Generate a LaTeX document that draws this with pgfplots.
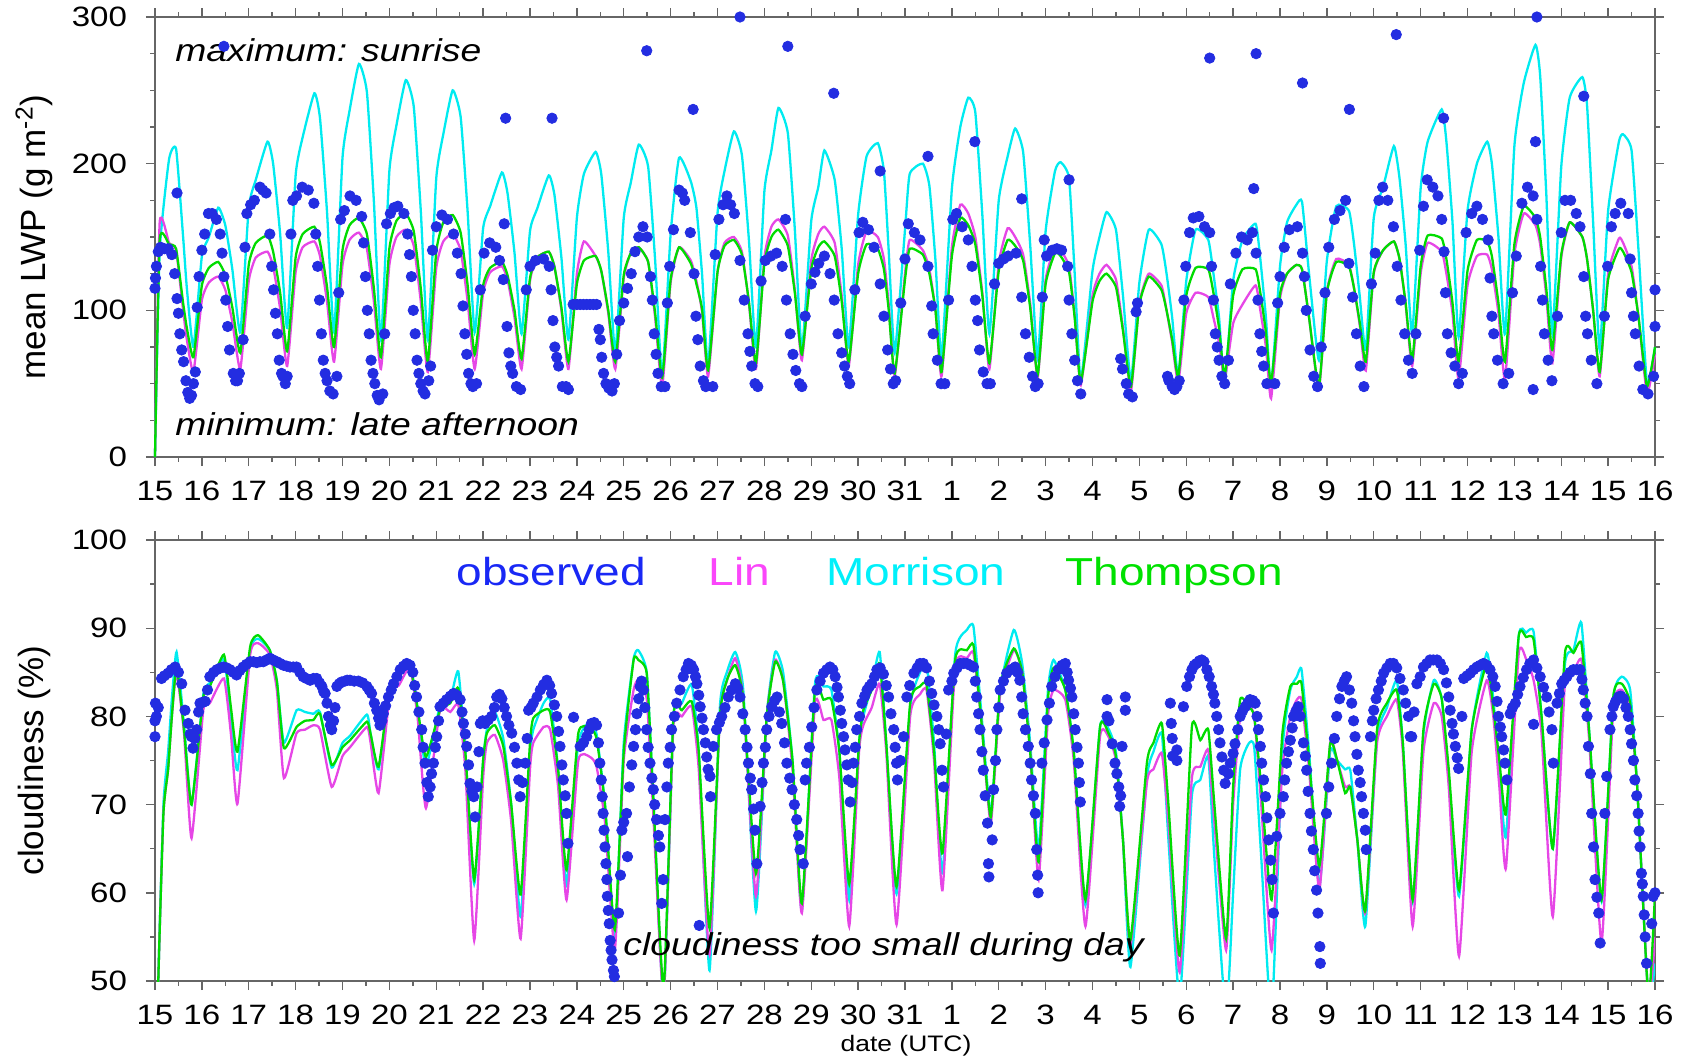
\documentclass[border=0pt]{standalone}
\usepackage{fontspec}
\setmainfont{Liberation Sans}[FakeStretch=1.18]
\newfontfamily\rotfont{Liberation Sans}
\usepackage{pgfplots}
\usepackage{pgfplotstable}
\pgfplotsset{compat=1.18}

\definecolor{obsblue}{RGB}{35,45,225}
\definecolor{linmag}{RGB}{230,70,230}
\definecolor{morcyan}{RGB}{0,235,240}
\definecolor{thogreen}{RGB}{0,220,0}
\definecolor{obstxt}{RGB}{25,40,245}
\definecolor{lintxt}{RGB}{250,70,250}
\definecolor{mortxt}{RGB}{0,240,250}
\definecolor{thotxt}{RGB}{0,225,0}

% model LWP (g m-2)
\pgfplotstableread{
t lin mor tho
0.00 0 0 0
0.10 160 140 148
0.30 146 203 145
0.45 141 210 142
0.60 100 150 105
0.68 80 115 88
0.82 58 75 68
1.00 107 137 117
1.15 119 150 129
1.35 123 170 133
1.50 114 158 124
1.65 92 128 102
1.82 60 85 71
2.00 120 170 131
2.15 136 189 146
2.40 140 215 151
2.52 130 200 140
2.67 101 152 112
2.82 62 88 72
3.00 126 192 136
3.15 143 218 152
3.40 147 248 157
3.52 137 231 146
3.67 106 167 116
3.82 65 85 75
4.00 131 204 141
4.15 148 236 158
4.35 153 268 163
4.52 142 249 152
4.67 106 174 115
4.82 60 80 68
5.00 131 195 142
5.15 150 226 161
5.35 155 257 166
5.52 144 239 154
5.67 106 168 115
5.82 58 80 65
6.00 129 190 140
6.15 147 220 160
6.35 152 250 165
6.52 141 232 153
6.67 106 167 117
6.82 60 85 70
7.00 112 156 117
7.15 126 171 129
7.40 130 194 133
7.52 121 180 124
7.67 95 139 100
7.82 60 84 67
8.00 120 154 122
8.15 136 169 136
8.40 140 192 140
8.52 130 179 130
8.67 100 136 102
8.82 60 80 65
9.00 125 163 118
9.15 147 193 134
9.40 137 208 137
9.52 127 193 127
9.67 98 140 100
9.82 60 71 65
10.00 122 163 124
10.15 139 187 139
10.32 143 213 143
10.52 133 198 133
10.67 95 134 98
10.82 48 55 54
11.00 119 152 121
11.18 143 204 143
11.43 134 188 132
11.55 120 170 118
11.67 99 125 101
11.80 55 62 59
12.00 126 166 126
12.15 146 195 144
12.35 150 222 148
12.52 140 206 138
12.67 105 148 106
12.82 60 75 64
13.00 136 181 132
13.15 157 209 150
13.30 162 238 155
13.50 151 221 144
13.65 114 155 112
13.80 66 73 70
14.00 134 161 128
14.15 152 184 143
14.28 157 209 147
14.50 146 189 137
14.65 110 142 106
14.80 62 75 65
15.00 131 165 125
15.18 154 205 145
15.42 150 214 142
15.55 135 195 128
15.65 105 142 101
15.78 55 71 57
16.00 125 155 121
16.10 148 193 142
16.38 141 200 138
16.52 128 185 125
16.65 100 134 100
16.78 55 68 58
17.00 143 183 137
17.18 172 225 163
17.35 166 245 158
17.50 150 235 145
17.65 112 165 110
17.80 60 84 64
18.00 132 175 127
18.19 156 205 148
18.35 150 224 144
18.52 138 208 134
18.67 105 145 102
18.83 54 67 56
19.00 121 154 118
19.20 143 195 139
19.32 141 201 137
19.50 130 190 126
19.62 96 125 95
19.75 49 52 51
20.00 110 127 106
20.15 125 150 120
20.30 131 167 125
20.50 121 155 116
20.65 88 110 86
20.82 45 52 48
21.00 105 119 104
21.20 125 155 123
21.47 117 145 114
21.58 100 125 100
21.70 78 95 80
21.83 51 55 55
22.00 98 120 110
22.20 112 155 129
22.47 109 148 128
22.58 95 125 112
22.70 78 95 88
22.82 53 49 55
23.00 91 120 110
23.20 104 148 128
23.48 117 159 128
23.58 100 135 112
23.70 75 95 85
23.81 40 48 50
24.00 108 130 111
24.15 125 160 125
24.35 131 172 131
24.47 128 174 128
24.62 95 125 95
24.83 46 66 48
25.00 113 134 112
25.20 135 171 133
25.47 131 168 130
25.58 115 145 115
25.70 90 110 92
25.83 59 73 65
26.00 125 163 126
26.20 141 184 141
26.43 147 212 147
26.55 135 190 135
26.68 104 145 105
26.82 62 84 66
27.00 125 183 130
27.15 146 215 151
27.45 140 237 149
27.55 125 215 135
27.68 98 160 105
27.81 53 82 65
28.00 117 168 127
28.20 137 200 148
28.42 138 215 147
28.52 128 200 137
28.66 98 150 105
28.80 53 84 65
29.00 138 212 145
29.20 166 255 171
29.45 158 281 163
29.55 145 260 150
29.68 110 180 115
29.81 64 84 73
30.00 136 198 138
30.18 160 245 160
30.45 150 259 150
30.55 135 240 135
30.68 100 160 100
30.82 55 73 58
31.00 125 168 121
31.23 149 215 142
31.32 146 220 140
31.50 130 209 126
31.65 95 140 95
31.83 43 50 48
32.00 70 75 75
}\toplines

% observed LWP
\pgfplotstableread{
t v
0.00 115
0.01 122
0.03 130
0.07 140
0.12 143
0.20 142
0.28 142
0.36 138
0.42 125
0.47 180
0.47 108
0.50 98
0.53 84
0.57 73
0.61 65
0.66 52
0.70 44
0.74 40
0.78 42
0.82 50
0.86 58
0.90 102
0.94 123
1.00 141
1.06 152
1.14 166
1.22 166
1.31 162
1.39 152
1.43 139
1.47 123
1.47 280
1.51 107
1.55 89
1.59 73
1.67 57
1.72 52
1.76 52
1.80 57
1.88 80
1.92 143
1.96 166
2.04 172
2.12 175
2.24 184
2.30 182
2.37 180
2.45 152
2.49 130
2.53 114
2.57 98
2.61 84
2.65 66
2.70 57
2.73 55
2.78 50
2.82 55
2.90 152
2.94 175
3.02 178
3.14 184
3.27 182
3.39 173
3.43 152
3.47 130
3.51 107
3.55 84
3.59 66
3.63 57
3.67 52
3.73 45
3.80 43
3.88 55
3.92 112
3.96 162
4.04 168
4.16 178
4.29 175
4.41 164
4.45 146
4.49 123
4.53 100
4.57 84
4.61 66
4.65 57
4.69 50
4.74 42
4.78 39
4.86 43
4.90 84
4.94 159
5.02 166
5.10 170
5.18 171
5.31 166
5.39 152
5.43 138
5.47 123
5.51 100
5.55 84
5.59 66
5.63 57
5.67 50
5.72 45
5.76 43
5.84 52
5.88 62
5.92 141
6.00 157
6.12 165
6.24 162
6.37 152
6.45 139
6.53 125
6.57 103
6.61 84
6.65 70
6.69 57
6.74 50
6.78 48
6.86 50
6.94 114
7.02 139
7.14 146
7.27 143
7.35 134
7.43 121
7.45 159
7.48 231
7.51 89
7.55 71
7.59 62
7.63 57
7.71 48
7.80 46
7.92 114
8.00 130
8.12 134
8.29 135
8.41 130
8.45 114
8.47 231
8.49 93
8.53 75
8.57 68
8.61 62
8.69 48
8.77 48
8.82 46
8.92 104
9.00 104
9.07 104
9.14 104
9.21 104
9.28 104
9.35 104
9.42 104
9.47 87
9.50 80
9.53 68
9.57 57
9.62 50
9.68 47
9.75 45
9.80 50
9.85 70
9.91 93
10.00 105
10.08 115
10.16 125
10.24 140
10.32 150
10.41 157
10.49 277
10.50 150
10.57 123
10.61 107
10.65 84
10.69 70
10.73 57
10.80 48
10.88 48
10.93 105
10.98 130
11.06 155
11.18 182
11.25 180
11.30 175
11.42 153
11.48 237
11.50 125
11.54 96
11.58 80
11.63 62
11.70 52
11.75 48
11.90 48
11.95 138
12.03 162
12.12 172
12.20 178
12.28 172
12.36 166
12.48 134
12.48 300
12.57 107
12.65 84
12.69 72
12.73 62
12.80 50
12.86 48
12.93 120
13.02 134
13.14 137
13.26 139
13.38 130
13.45 162
13.47 107
13.50 280
13.55 84
13.61 70
13.67 59
13.75 50
13.80 48
13.87 96
14.00 118
14.08 126
14.16 132
14.28 137
14.40 125
14.48 248
14.49 107
14.57 84
14.65 71
14.71 62
14.77 55
14.82 50
14.93 114
15.02 153
15.10 160
15.22 155
15.34 143
15.47 118
15.47 195
15.55 96
15.63 73
15.69 60
15.75 50
15.80 52
15.91 105
16.00 135
16.07 159
16.20 153
16.32 148
16.49 130
16.49 205
16.57 103
16.60 84
16.69 66
16.77 50
16.85 50
16.93 107
17.02 162
17.10 166
17.22 157
17.35 148
17.43 130
17.49 215
17.50 107
17.55 93
17.59 73
17.67 58
17.75 50
17.82 50
17.91 118
18.00 132
18.10 135
18.20 137
18.37 139
18.49 109
18.49 176
18.57 84
18.65 68
18.72 55
18.78 48
18.84 50
18.93 109
18.97 148
19.02 137
19.14 141
19.24 142
19.34 141
19.47 130
19.50 107
19.50 189
19.56 84
19.62 66
19.68 52
19.75 43
20.60 67
20.64 60
20.72 50
20.77 43
20.85 41
20.93 99
20.96 105
21.60 55
21.63 52
21.70 48
21.75 46
21.80 48
21.85 52
21.95 107
21.99 130
22.07 153
22.15 163
22.27 164
22.39 157
22.50 153
22.50 272
22.54 130
22.58 107
22.62 84
22.66 75
22.70 66
22.76 55
22.82 50
22.90 66
22.94 118
23.06 139
23.18 150
23.30 148
23.41 153
23.44 183
23.49 275
23.49 139
23.53 107
23.57 84
23.61 72
23.65 62
23.72 50
23.89 50
23.95 105
24.00 123
24.09 143
24.20 155
24.37 157
24.48 139
24.48 255
24.52 123
24.56 100
24.64 73
24.72 55
24.80 48
24.88 75
24.96 112
25.04 143
25.16 162
25.28 168
25.40 175
25.47 132
25.48 237
25.55 109
25.63 84
25.71 62
25.79 48
25.95 118
26.03 139
26.11 175
26.19 184
26.30 175
26.42 157
26.48 288
26.50 130
26.58 107
26.66 84
26.74 66
26.82 57
26.90 84
26.98 141
27.06 171
27.14 189
27.26 184
27.37 178
27.45 162
27.49 231
27.50 140
27.53 112
27.57 84
27.65 71
27.73 62
27.81 50
27.89 57
27.97 153
28.09 166
28.20 171
28.32 162
28.44 148
28.48 122
28.52 96
28.56 84
28.64 66
28.76 50
28.88 57
28.96 112
29.04 137
29.16 173
29.28 184
29.40 178
29.40 46
29.45 215
29.48 162
29.48 300
29.56 130
29.60 107
29.64 84
29.72 66
29.80 52
29.92 96
30.00 153
30.08 175
30.20 175
30.32 166
30.40 157
30.48 123
30.48 246
30.52 96
30.56 84
30.64 66
30.76 50
30.92 96
30.99 130
31.07 157
31.15 166
31.27 173
31.43 166
31.47 135
31.50 112
31.54 96
31.58 84
31.66 62
31.74 46
31.85 43
31.97 55
32.00 89
32.00 114
}\topobs

% model cloudiness (%)
\pgfplotstableread{
t lin mor tho
0.00 30 30 30
0.07 50 50 50
0.18 69 70 69
0.28 74 76 74
0.36 80 82 80
0.46 85 87.3 85.6
0.62 78 79 78.5
0.78 66.2 70 70
1.03 80.7 82.5 82.2
1.17 81.5 83.8 83.4
1.47 84.3 86.5 87
1.62 78 80 81
1.76 70.1 73.9 76
2.03 87 87.5 87.9
2.20 88.3 88.8 89.2
2.45 87 87.5 87.5
2.60 83 84 84
2.75 73 77 76.4
3.02 78.1 80.7 78.8
3.20 78.5 80.5 79.5
3.38 79 80.3 79.6
3.52 78.5 80.5 80.3
3.77 72 74.2 74.5
4.00 75.5 77 76.5
4.16 76.5 77.8 77.3
4.52 78.8 80.2 79.4
4.60 77 78 78
4.77 71.3 74 74.3
5.01 82.5 83 83.4
5.20 83.5 84.5 84.5
5.44 85.5 86 85.8
5.60 80 81 81
5.78 69.6 74.3 75.4
6.08 80.7 81.2 80.7
6.30 80.5 82 81.5
6.47 81.3 85.1 83.2
6.62 74 76 76
6.81 54.6 61 61.5
7.00 73 75 75
7.08 77 78.5 78.1
7.25 77.9 80.5 79
7.43 75 77.5 76.6
7.60 68 70 70
7.80 54.8 57.3 59.8
8.00 74 75.5 77
8.07 77 78.5 79.8
8.29 78.8 81.5 80.7
8.43 78.5 81.9 80.5
8.60 72 74 74
8.78 59.2 60.9 62.6
9.03 75 77 78.1
9.28 75.4 79.4 78.7
9.42 74.3 78 77.5
9.60 68 70 70
9.81 53.5 55 55.8
10.00 75 77 76
10.21 83 86.5 86.4
10.31 84.1 87.5 86.4
10.49 82 85 84.9
10.62 70 72 72
10.85 48 48 49
11.06 79 80 80
11.24 80 81.5 80.7
11.45 81.1 83.6 81.7
11.60 74 76 76
11.83 53 51.2 56
12.05 80 81 80
12.20 84 85 84.1
12.38 86.6 87.3 85.8
12.55 82 83 82
12.82 59.6 57.9 62.2
13.05 80 80 80
13.23 86.4 87.3 86.2
13.40 84 85 84
13.60 74 75 75
13.80 57.7 58 58.8
14.08 81.5 83.7 83
14.26 79.6 83.4 81.9
14.43 79.6 83 81.9
14.60 73 76 76
14.81 56.2 59.2 61
15.02 76 77 77
15.11 79 80 80.7
15.29 81 83.5 83
15.46 83.7 87.3 86
15.60 76 77 77
15.82 56.4 59.9 60.7
16.11 80 81 81.5
16.32 82.5 85 83.4
16.46 83 86 83.6
16.62 75 77 76
16.80 60.3 62.2 64.5
17.07 85.5 87 86.4
17.32 86.6 89.8 87.5
17.46 87.2 90.2 88.1
17.62 80 81 80
17.83 67.9 69 68.6
18.03 82.5 83 83.4
18.32 87.5 89.8 87.7
18.50 85 86 85
18.67 76 77 76
18.85 61.5 64.9 63.5
19.05 80 83 82
19.17 83 86.4 85.5
19.42 81.9 83 83
19.60 75 76 76
19.85 56.2 58.6 59.2
20.16 77.7 78.8 78.8
20.34 77.7 78.6 78.1
20.50 75 76 75.5
20.65 66 66 66
20.81 54 51.6 54.6
21.16 72.5 73 74.7
21.30 74 76 77
21.48 75.8 78 79.2
21.62 68 66 70
21.86 51 48 52.9
22.12 73 71 78.8
22.30 74.3 72.8 77.3
22.47 76.2 75.4 78.5
22.60 68 64 70
22.85 53.5 46 54.8
23.00 70 60 72
23.15 80 74 81.9
23.33 81.2 76.9 81.1
23.45 80 76.5 80
23.60 70 64 72
23.82 53.5 46 59.2
24.05 74 76 78
24.22 80 83 83.4
24.36 81.9 84.5 83.7
24.46 81.9 85.3 83.7
24.62 74 76 75
24.84 60.3 60.7 63
25.07 77 76 76.9
25.22 75 75 75
25.39 72 74 71.3
25.50 72 73.9 72
25.65 66 66 66
25.82 57.7 56.2 58
26.07 77 77.5 78.5
26.28 80 81 81.5
26.49 81.9 84.1 83
26.62 76 77 77
26.83 56.2 59 59.2
27.06 76 78 78.5
27.28 81.5 84.1 83.7
27.45 80 82 82
27.60 72 73 74
27.82 52.8 59.6 60.3
28.09 76 78.5 78.5
28.41 84.1 87.2 86
28.55 80 82 81
28.68 72 74 75
28.82 62.8 66.4 69
29.09 87 89 89
29.25 86.5 89.5 89
29.41 84.1 89.6 88.7
29.58 78 80 80
29.82 57.3 65 65
30.08 84 86 87.2
30.26 85 87.5 87.2
30.43 86.4 90.6 88.3
30.60 77 78 78
30.86 54.3 59 59.2
31.11 81 82 82.2
31.29 83 84.5 83.7
31.47 80.7 83 81.5
31.62 72 72 72
31.86 48 48 48
32.00 55 52 60
}\botlines

% observed cloudiness
\pgfplotstableread{
t v
0.00 77.7
0.00 79.5
0.01 81.5
0.03 80
0.07 81
0.14 84.3
0.20 84.6
0.28 84.9
0.35 85.3
0.43 85.6
0.50 85
0.57 83.7
0.64 80.7
0.71 79.2
0.75 78
0.78 77.7
0.81 76.4
0.85 77.5
0.89 78.5
0.93 80.5
0.96 81.5
1.02 81.6
1.07 81.7
1.12 83
1.17 84.5
1.25 85
1.32 85.3
1.40 85.5
1.46 85.6
1.53 85.5
1.60 85.3
1.67 85
1.74 84.7
1.81 85.2
1.88 85.6
1.95 85.9
2.03 86.2
2.10 86.2
2.17 86.1
2.24 86.2
2.31 86.2
2.38 86.4
2.45 86.6
2.52 86.4
2.60 86.2
2.67 86
2.74 85.8
2.81 85.7
2.88 85.6
2.95 85.6
3.02 85.6
3.09 85
3.16 84.5
3.23 84.3
3.31 84.1
3.38 84.3
3.45 84.3
3.51 83.8
3.56 83.4
3.60 82.8
3.63 82.6
3.67 81.5
3.70 80
3.74 79
3.77 78.5
3.81 79.5
3.84 81
3.88 83.4
3.93 83.7
3.98 83.9
4.05 84
4.10 84.1
4.16 84.1
4.25 84
4.34 84
4.43 83.8
4.52 83.4
4.57 83
4.62 82.6
4.68 81.5
4.73 80.7
4.77 79.8
4.80 79
4.84 79.5
4.87 80.3
4.92 81.2
4.98 82.2
5.04 83
5.09 83.7
5.16 84.5
5.23 85.3
5.30 85.7
5.37 86
5.44 85.8
5.50 85
5.54 83.5
5.58 82.2
5.63 80.5
5.69 78.5
5.72 76.5
5.76 74.7
5.80 72.5
5.83 70.9
5.87 72
5.90 73.5
5.94 74.7
5.98 76.5
6.01 77.7
6.05 79.5
6.08 81.1
6.15 81.5
6.22 81.9
6.30 82.3
6.37 82.6
6.44 82.4
6.51 81.9
6.55 80.5
6.58 79.2
6.62 78
6.65 76.6
6.69 74.5
6.72 72.4
6.76 71.5
6.80 70.9
6.83 68.6
6.87 72
6.91 76
6.94 79.2
6.99 79.5
7.04 79.2
7.11 79.6
7.18 80
7.24 81
7.29 82.2
7.35 82.5
7.40 82
7.45 81
7.50 80
7.55 79
7.61 78.1
7.67 76.5
7.72 74.7
7.76 72.8
7.79 70.9
7.84 72.5
7.90 74.7
7.94 77.5
7.97 80.7
8.02 81
8.07 81.5
8.15 82.2
8.22 83
8.29 83.6
8.36 84.1
8.42 83.5
8.46 82.6
8.52 81.3
8.57 80
8.61 78.3
8.64 76.6
8.68 74.5
8.71 72.8
8.75 71
8.78 69
8.81 65.6
8.93 79.9
9.07 76.6
9.14 77
9.21 77.7
9.26 78.5
9.31 79.2
9.37 79.3
9.42 79
9.46 77
9.49 74.7
9.52 72.8
9.54 70.9
9.56 69
9.58 67.1
9.60 65.2
9.62 63.3
9.64 61.5
9.65 59.6
9.67 58
9.69 56.5
9.71 54.6
9.73 53.5
9.75 52.4
9.78 51.2
9.80 50.5
9.89 57.7
9.93 62
9.96 67.1
10.00 68
10.06 69
10.08 64.1
10.12 72
10.17 74.5
10.21 76.6
10.25 78.5
10.28 80.3
10.32 82
10.35 83.4
10.38 84
10.42 83
10.45 81
10.49 78.5
10.52 76.5
10.56 74.7
10.60 73
10.63 71.7
10.66 70
10.70 68.3
10.74 66.5
10.77 65.2
10.81 58.8
10.84 61.5
10.88 68.3
10.92 72
10.95 74.7
10.99 76.5
11.02 78.5
11.08 80
11.13 81.5
11.20 83
11.27 84.5
11.33 85.3
11.38 86
11.44 85.8
11.49 85.3
11.53 84.5
11.56 83.7
11.60 82.4
11.61 56.3
11.63 81.1
11.67 79.8
11.70 78.5
11.74 77
11.77 75.4
11.80 74
11.84 73.2
11.85 70.9
11.91 76.6
11.98 78.5
12.04 79.3
12.09 80
12.16 81
12.23 82.2
12.30 83
12.38 83.7
12.43 83.2
12.48 82.2
12.54 80.3
12.59 78.5
12.63 76.5
12.66 74.7
12.70 73
12.73 71.7
12.77 69.5
12.80 67.1
12.84 63.3
12.91 69.8
12.95 72.5
12.98 74.7
13.02 76.5
13.05 78.5
13.10 80
13.16 81.1
13.22 81.8
13.27 82.2
13.32 80.5
13.37 79.2
13.43 77
13.48 74.7
13.54 73
13.59 71.7
13.64 70
13.69 68.3
13.73 66.5
13.76 64.9
13.83 63.3
13.87 72.8
13.90 74.7
13.96 76.5
14.01 78.8
14.06 81
14.12 83
14.19 84
14.26 84.9
14.33 85.3
14.40 85.6
14.46 85.3
14.51 84.5
14.55 83.3
14.58 82.2
14.62 80.7
14.65 79.2
14.69 77.7
14.72 76.2
14.76 74.5
14.79 72.8
14.83 70.3
14.87 72.5
14.90 74.7
14.94 76.5
14.97 78.5
15.03 80
15.08 81.5
15.14 82.3
15.19 83
15.24 83.4
15.29 83.7
15.35 84.5
15.40 85.3
15.47 85.5
15.54 84.8
15.60 83.5
15.65 82.2
15.70 80.3
15.76 78.5
15.79 76.5
15.82 74.7
15.84 72.8
15.90 75
15.97 77.7
16.04 82.2
16.10 83.5
16.19 84.9
16.26 85.5
16.32 86
16.39 86
16.46 85.5
16.52 84
16.57 82.6
16.62 81.3
16.68 80
16.72 78.5
16.75 76.9
16.79 73.9
16.82 72
16.88 78
16.93 83
17.00 84
17.04 84.9
17.11 85.5
17.18 86
17.25 86
17.32 86
17.39 85.8
17.46 85.6
17.50 84
17.53 82.2
17.57 80.3
17.60 78.5
17.64 76
17.67 73.9
17.71 71
17.76 67.9
17.78 63.3
17.79 61.8
17.86 66
17.89 71.7
17.93 75
17.96 78.5
18.00 81
18.03 83
18.10 84
18.17 84.9
18.26 85.3
18.35 85.6
18.40 85
18.45 84.1
18.49 82.2
18.52 80.3
18.57 78.5
18.63 76.6
18.67 74.7
18.70 72.8
18.74 71
18.78 69
18.81 64.9
18.83 62
18.84 60
18.92 74.7
18.97 77
19.03 79.6
19.08 81.5
19.13 83.4
19.20 84.5
19.27 85.3
19.35 85.8
19.42 86
19.46 85
19.49 84.1
19.53 83.2
19.56 82.2
19.60 80.3
19.63 78.5
19.67 76.5
19.70 74.7
19.72 72.5
19.74 70.3
20.31 81.9
20.31 80
20.35 79.5
20.42 76.9
20.48 74.7
20.52 73.5
20.56 72
20.58 69.8
20.60 71
20.63 76.6
20.70 82.2
20.70 80.7
21.66 81.5
21.68 79.2
21.70 77.5
21.71 75.5
21.80 76.2
21.80 75
21.94 81.1
22.01 83.4
22.07 84.5
22.12 85.3
22.17 85.8
22.22 86
22.28 86.3
22.33 86.4
22.38 86.2
22.44 85.3
22.49 84.5
22.54 83.4
22.58 82.5
22.61 81.5
22.65 80
22.69 78.5
22.72 77
22.76 75.4
22.80 73.9
22.83 72.4
22.90 73.5
22.94 74.7
23.00 75.8
23.04 76.9
23.10 78.5
23.15 80
23.20 80.6
23.26 81.1
23.31 81.5
23.36 81.9
23.42 81.8
23.47 81.5
23.51 80
23.54 78.5
23.58 76.6
23.61 74.7
23.65 72.8
23.69 70.9
23.72 68.5
23.76 66
23.80 63.7
23.83 61.5
23.86 57.7
23.93 66.4
24.00 69
24.07 70.9
24.10 72.8
24.14 74.7
24.18 76
24.22 77.3
24.26 78.7
24.29 80
24.34 80.6
24.39 81.1
24.43 80
24.50 77
24.54 75.5
24.57 73.9
24.60 71.5
24.64 69
24.67 67
24.71 64.9
24.74 62.5
24.78 60.3
24.81 57.7
24.85 53.9
24.86 52
24.99 69
25.04 72
25.10 74.7
25.16 77.5
25.21 80
25.27 82
25.32 83.4
25.37 84
25.42 84.5
25.48 83
25.53 81.5
25.57 79.5
25.60 77.7
25.64 75.7
25.67 73.9
25.71 72.5
25.74 70.9
25.78 69
25.82 67.1
25.84 64.9
25.93 77.7
25.97 79.5
26.00 80.7
26.05 82
26.10 83
26.16 84
26.21 84.9
26.28 85.5
26.35 86
26.42 86
26.49 85.5
26.56 84.3
26.63 83
26.68 81.5
26.74 80
26.78 77.7
26.81 77.7
26.86 80.5
26.92 83.7
26.99 84.5
27.06 85.6
27.13 86
27.20 86.4
27.27 86.4
27.35 86.4
27.42 86
27.49 85.3
27.55 83.8
27.60 82.2
27.63 80.7
27.67 79.2
27.70 78
27.74 76.6
27.78 75.3
27.81 74.1
27.88 80
27.92 84.3
27.99 84.6
28.06 84.9
28.13 85.3
28.20 85.6
28.27 85.8
28.34 86
28.41 85.8
28.48 85.3
28.54 84.5
28.59 83.4
28.63 81.7
28.66 80
28.70 78.8
28.73 77.7
28.77 76.2
28.80 74.7
28.84 72.8
28.91 80.3
28.96 81
29.02 81.5
29.07 82.5
29.12 83.4
29.19 84.4
29.26 85.3
29.33 86
29.41 86.4
29.41 79.1
29.48 85.5
29.55 84.5
29.62 83.3
29.69 82.2
29.74 80.5
29.80 78.5
29.83 74.7
29.91 81.5
29.96 82.6
30.01 83.7
30.06 84.1
30.12 84.5
30.19 85
30.26 85.3
30.33 85.3
30.40 85.3
30.44 84.2
30.47 83
30.51 81.5
30.55 80
30.58 76.6
30.62 73.5
30.65 69
30.69 65.2
30.72 61.5
30.76 59.5
30.80 57.7
30.83 54.3
30.93 69
30.97 73.2
31.04 78.5
31.08 80
31.11 81.1
31.16 81.7
31.22 82.2
31.27 82.3
31.33 82
31.38 81
31.43 80
31.47 78.5
31.50 76.9
31.54 75
31.57 72.8
31.61 71
31.64 69
31.66 67
31.68 65.2
31.71 62.2
31.73 61
31.75 59.6
31.77 57.5
31.79 55
31.82 52
31.93 56.5
31.96 59.6
32.00 60
}\botobs

\pgfplotsset{
  panel/.style={
    scale only axis,
    width=750pt,
    xmin=0, xmax=32,
    axis line style={draw=black!60, line width=0.8pt},
    tick align=outside,
    tick pos=both,
    xticklabel pos=lower,
    yticklabel pos=left,
    xtick={0,...,32},
    xticklabels={15,16,17,18,19,20,21,22,23,24,25,26,27,28,29,30,31,1,2,3,4,5,6,7,8,9,10,11,12,13,14,15,16},
    minor x tick num=1,
    major tick length=4.5pt,
    minor tick length=2.3pt,
    every tick/.style={draw=black!60, line width=0.7pt},
    tick label style={font=\fontsize{14}{16}\selectfont},
    xticklabel style={yshift=-4pt},
    yticklabel style={xshift=-6pt},
    every axis y label/.style={at={(axis description cs:-0.0807,0.5)},
      rotate=90, anchor=center, font=\rotfont\fontsize{17.5}{20}\selectfont},
  },
  obs/.style={only marks, mark=*, mark size=2.6pt, color=obsblue},
  mline/.style={line width=1.15pt, mark=none, smooth, tension=0.3},
}

\begin{document}
\begin{tikzpicture}
% top panel: LWP
\begin{axis}[panel,
  at={(0,262pt)}, anchor=south west, height=220pt,
  ymin=0, ymax=300,
  ytick={0,100,200,300}, yticklabels={0,100,200,300},
  minor y tick num=3,
  clip=false,
  ylabel={mean LWP (g m\textsuperscript{-2})},
]
\addplot[obs] table[x=t,y=v]{\topobs};
\addplot[mline, morcyan] table[x=t,y=mor]{\toplines};
\addplot[mline, linmag] table[x=t,y=lin]{\toplines};
\addplot[mline, thogreen] table[x=t,y=tho]{\toplines};
\node[anchor=base west, inner sep=0pt, font=\itshape\fontsize{15.8}{18}\selectfont]
  at (rel axis cs:0.0133,0.898) {maximum: sunrise};
\node[anchor=base west, inner sep=0pt, font=\itshape\fontsize{15.8}{18}\selectfont]
  at (rel axis cs:0.0133,0.048) {minimum: late afternoon};
\end{axis}

% bottom panel: cloudiness
\begin{axis}[panel,
  at={(0,0)}, anchor=south west, height=220.5pt,
  ymin=50, ymax=100,
  ytick={50,60,70,80,90,100}, yticklabels={50,60,70,80,90,100},
  minor y tick num=1,
  ylabel={cloudiness (\%)},
  xlabel={date (UTC)},
  xlabel style={at={(axis description cs:0.5007,-0.147)}, anchor=center,
    font=\fontsize{11.2}{13}\selectfont},
]
\addplot[obs] table[x=t,y=v]{\botobs};
\addplot[mline, morcyan] table[x=t,y=mor]{\botlines};
\addplot[mline, linmag] table[x=t,y=lin]{\botlines};
\addplot[mline, thogreen] table[x=t,y=tho]{\botlines};
\node[anchor=base west, inner sep=0pt, text=obstxt, font=\fontsize{19.5}{22}\selectfont]
  at (rel axis cs:0.2007,0.8957) {observed};
\node[anchor=base west, inner sep=0pt, text=lintxt, font=\fontsize{19.5}{22}\selectfont]
  at (rel axis cs:0.3687,0.8957) {Lin};
\node[anchor=base west, inner sep=0pt, text=mortxt, font=\fontsize{19.5}{22}\selectfont]
  at (rel axis cs:0.4473,0.8957) {Morrison};
\node[anchor=base west, inner sep=0pt, text=thotxt, font=\fontsize{19.5}{22}\selectfont]
  at (rel axis cs:0.6067,0.8957) {Thompson};
\node[anchor=base west, inner sep=0pt, font=\itshape\fontsize{15.8}{18}\selectfont]
  at (rel axis cs:0.312,0.057) {cloudiness too small during day};
\end{axis}

\pgfresetboundingbox
\path[use as bounding box] (-77.5pt,-40.5pt) rectangle (763.5pt,490.5pt);
\end{tikzpicture}
\end{document}
